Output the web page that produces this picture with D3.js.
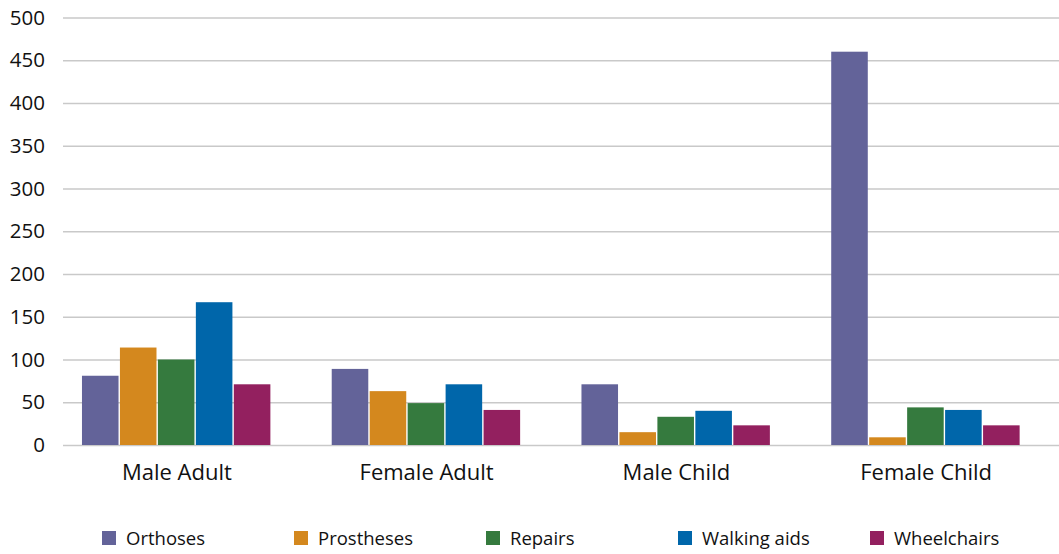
<!DOCTYPE html>
<html>
<head>
<meta charset="utf-8">
<script src="https://cdn.jsdelivr.net/npm/d3@7/dist/d3.min.js"></script>
<style>
  html, body { margin: 0; padding: 0; background: #fff; }
  svg { display: block; font-family: "Open Sans", "Noto Sans", sans-serif; }
</style>
</head>
<body>
<svg id="chart" width="1059" height="554"></svg>
<script>
// Assistive devices provided, by recipient group
const categories = ["Male Adult", "Female Adult", "Male Child", "Female Child"];
const seriesNames = ["Orthoses", "Prostheses", "Repairs", "Walking aids", "Wheelchairs"];
const orthoses    = [81, 89, 71, 460];
const prostheses  = [114, 63, 15, 9];
const repairs     = [100, 49, 33, 44];
const walkingAids = [167, 71, 40, 41];
const wheelchairs = [71, 41, 23, 23];
const yTicks = [0, 50, 100, 150, 200, 250, 300, 350, 400, 450, 500];

const seriesValues = [orthoses, prostheses, repairs, walkingAids, wheelchairs];
const colors = ["#636399", "#d4881e", "#357a3e", "#0066aa", "#93205f"];

const svg = d3.select("#chart");

const y = d3.scaleLinear().domain([0, 500]).range([445, 17.5]);
const x0 = d3.scaleBand().domain(categories).range([52, 1051])
  .paddingInner(0.24).paddingOuter(0.12);
const x1 = d3.scaleBand().domain(seriesNames).range([0, x0.bandwidth()]);
const color = d3.scaleOrdinal().domain(seriesNames).range(colors);

// Horizontal gridlines with value labels
const yAxis = d3.axisLeft(y).tickValues(yTicks).tickSize(-996).tickPadding(18);
const gy = svg.append("g").attr("transform", "translate(63,0)").call(yAxis);
gy.select(".domain").remove();
gy.selectAll(".tick line").attr("stroke", "#c9c9c9").attr("stroke-width", 1.5);
gy.selectAll(".tick text").attr("fill", "#111").style("font-size", "20.5px")
  .attr("font-family", "'Open Sans', sans-serif");

// Bars
const rows = categories.map((c, i) => ({
  category: c,
  values: seriesNames.map((s, k) => ({ series: s, value: seriesValues[k][i] }))
}));

const groups = svg.append("g").selectAll("g").data(rows).join("g")
  .attr("transform", d => `translate(${x0(d.category)},0)`);

groups.selectAll("rect").data(d => d.values).join("rect")
  .attr("x", d => x1(d.series))
  .attr("y", d => y(d.value))
  .attr("width", x1.bandwidth() - 1.4)
  .attr("height", d => y(0) - y(d.value))
  .attr("fill", d => color(d.series));

// Category labels
const xAxis = d3.axisBottom(x0).tickSize(0).tickPadding(19);
const gx = svg.append("g").attr("transform", `translate(0,${y(0)})`).call(xAxis);
gx.select(".domain").remove();
gx.selectAll(".tick text").attr("fill", "#111").style("font-size", "22px")
  .attr("font-family", "'Open Sans', sans-serif");

// Legend
const legendX = d3.scalePoint().domain(seriesNames).range([102, 870]);
const legend = svg.append("g").selectAll("g").data(seriesNames).join("g")
  .attr("transform", d => `translate(${legendX(d)},531)`);
legend.append("rect").attr("width", 14).attr("height", 14)
  .attr("fill", d => color(d));
legend.append("text").attr("x", 24).attr("y", 14)
  .attr("fill", "#111").style("font-size", "18.5px")
  .text(d => d);
</script>
</body>
</html>
